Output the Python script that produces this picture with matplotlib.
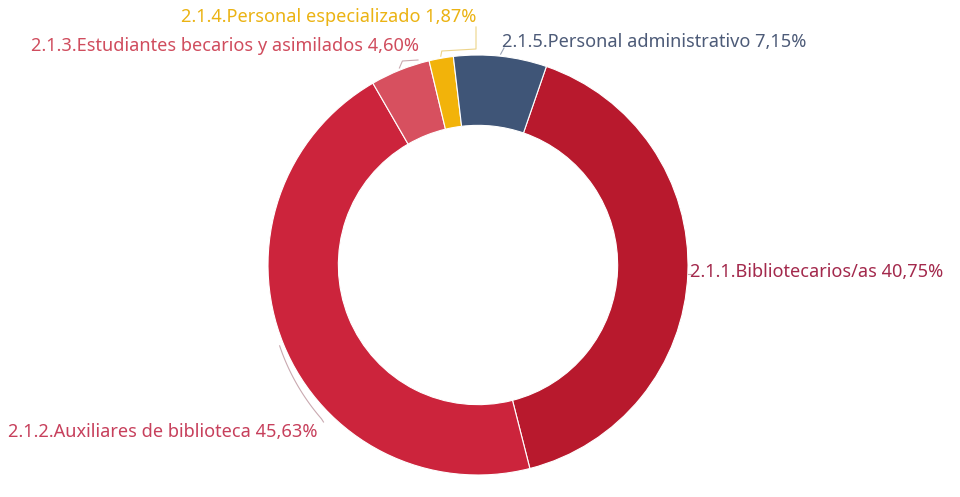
import numpy as np
import matplotlib
matplotlib.use('Agg')
import matplotlib.pyplot as plt

# Datos
categorias = [
    '2.1.1.Bibliotecarios/as',
    '2.1.2.Auxiliares de biblioteca',
    '2.1.3.Estudiantes becarios y asimilados',
    '2.1.4.Personal especializado',
    '2.1.5.Personal administrativo',
]
porcentajes = [40.75, 45.63, 4.60, 1.87, 7.15]
etiquetas = ['40,75%', '45,63%', '4,60%', '1,87%', '7,15%']

colores = ['#B8192D', '#CC243C', '#D7505F', '#F2B30A', '#3F5577']
colores_texto = ['#A3294C', '#C7405C', '#D04D5E', '#EBB313', '#4D5B78']

W, H = 960, 497
fig = plt.figure(figsize=(W / 100, H / 100), dpi=100)
ax = fig.add_axes([0, 0, 1, 1])

cx, cy, R = 478, H - 265, 210
wedges, _ = ax.pie(porcentajes, colors=colores, startangle=71, counterclock=False,
                   center=(cx, cy), radius=R,
                   wedgeprops=dict(width=R * 0.335, edgecolor='white', linewidth=0.8))
ax.set_xlim(0, W)
ax.set_ylim(0, H)
ax.set_aspect('equal')
ax.axis('off')

plt.rcParams['font.family'] = ['Noto Sans', 'DejaVu Sans']
fs = 13.1


def punto(ang, r):
    a = np.deg2rad(ang)
    return cx + r * np.cos(a), cy + r * np.sin(a)


medios = [(w.theta1 + w.theta2) / 2 for w in wedges]

# posiciones de texto (px, desde arriba) y alineacion
pos_texto = [(690, 272, 'left'), (8, 432, 'left'), (419, 46, 'right'),
             (476, 17, 'right'), (502, 42, 'left')]

for i, (tx, ty, ha) in enumerate(pos_texto):
    ax.text(tx, H - ty, f'{categorias[i]} {etiquetas[i]}', color=colores_texto[i],
            fontsize=fs, ha=ha, va='center')

lw = 0.8
col_linea = '#C9A9B0'

# Bibliotecarios
x0, y0 = punto(medios[0], R)
ax.plot([x0, 691], [y0, y0], color=col_linea, lw=lw)

# Auxiliares: arco exterior hacia el texto
angs = np.linspace(medios[1], -135.5, 30)
rr = np.linspace(R * 1.02, R * 1.045, 30)
xs = cx + rr * np.cos(np.deg2rad(angs))
ys = cy + rr * np.sin(np.deg2rad(angs))
ax.plot(list(xs) + [xs[-1] + 2], list(ys) + [H - 422], color=col_linea, lw=lw)

# Estudiantes
x0, y0 = punto(medios[2], R * 1.01)
ax.plot([x0, x0 + 3, 418], [y0, H - 61, H - 60], color=col_linea, lw=lw)

# Especializado
x0, y0 = punto(medios[3], R * 1.01)
ax.plot([x0, x0 + 1, 476, 476], [y0, H - 51, H - 49, H - 27], color='#EDD48A', lw=lw)

# Administrativo
x0, y0 = punto(medios[4], R * 1.01)
ax.plot([x0, 504], [y0, H - 48], color='#9AA3B5', lw=lw)

fig.savefig('out.png', dpi=100, facecolor='white')
